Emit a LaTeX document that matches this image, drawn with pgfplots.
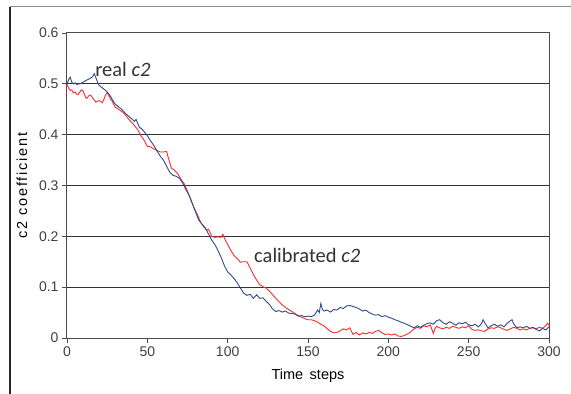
\documentclass[border=0pt]{standalone}
\usepackage{pgfplots}
\pgfplotsset{compat=1.18}
\usepackage{fontspec}
\setmainfont{Liberation Sans}
\newfontfamily\calib{Carlito}
\newfontfamily\ylabfont[LetterSpace=12]{Liberation Sans}
\definecolor{realblue}{HTML}{2E4A8C}
\definecolor{calred}{HTML}{FF2A2A}
\definecolor{ticktext}{HTML}{404040}
\begin{document}
\begin{tikzpicture}[x=1pt,y=1pt]
\useasboundingbox (-67,-56) rectangle (504,338);
\draw[black!45, line width=1pt] (-57,331) -- (504,331);
\draw[black!85, line width=1.5pt] (-57,331) -- (-57,-56);
\begin{axis}[
  at={(0pt,0pt)}, anchor=south west,
  width=482pt, height=305pt, scale only axis,
  xmin=0, xmax=300, ymin=0, ymax=0.6,
  xtick={0,50,100,150,200,250,300},
  ytick={0,0.1,0.2,0.3,0.4,0.5,0.6},
  yticklabels={0,0.1,0.2,0.3,0.4,0.5,0.6},
  ymajorgrids,
  grid style={black!80, line width=1pt},
  axis line style={black!70, line width=1pt},
  tick style={black!70, line width=0.8pt},
  tick align=outside, tick pos=left,
  major tick length=5pt,
  /pgf/number format/assume math mode=true,
  tick label style={font=\fontsize{14}{16}\selectfont, text=ticktext},
  label style={font=\fontsize{14.5}{16}\selectfont},
  xlabel={Time\, steps},
  ylabel={c2 coefficient},
  xlabel style={at={(axis description cs:0.5,0)}, anchor=center, yshift=-38pt},
  ylabel style={at={(axis description cs:0,0.5)}, anchor=center, yshift=45pt, font=\ylabfont\fontsize{14.5}{16}\selectfont},
  clip=false,
]
\addplot[calred, line width=0.9pt] coordinates {
(0,0.500) (1,0.492) (2,0.487) (3,0.488) (4,0.482) (5,0.484) (6,0.480) (7,0.479) (8,0.484) (9,0.488)
(10,0.486) (11,0.478) (12,0.471) (13,0.474) (14,0.478) (15,0.477) (16,0.472) (17,0.468) (18,0.464) (19,0.466)
(20,0.467) (21,0.465) (22,0.463) (23,0.470) (24,0.478) (25,0.483) (26,0.477) (27,0.470) (28,0.467) (29,0.460)
(30,0.454) (32,0.450) (34,0.446) (36,0.440) (38,0.432) (40,0.425) (42,0.418) (44,0.410) (46,0.398) (48,0.389)
(50,0.377) (52,0.376) (54,0.372) (56,0.369) (58,0.366) (60,0.366) (62,0.367) (63,0.355) (65,0.334) (67,0.330)
(69,0.323) (71,0.312) (73,0.303) (75,0.289) (77,0.272) (79,0.256) (81,0.244) (83,0.229) (85,0.219) (87,0.212)
(88,0.214) (89,0.208) (90,0.200) (92,0.198) (94,0.199) (96,0.198) (97,0.204) (98,0.196) (100,0.184) (102,0.172)
(104,0.162) (106,0.156) (108,0.149) (110,0.150) (112,0.150) (114,0.138) (116,0.125) (118,0.114) (120,0.105) (122,0.101)
(124,0.098) (126,0.092) (128,0.085) (130,0.078) (132,0.071) (134,0.065) (136,0.060) (138,0.056) (140,0.052) (142,0.048)
(144,0.044) (146,0.041) (148,0.038) (150,0.036) (152,0.036) (154,0.034) (156,0.031) (158,0.027) (160,0.024) (162,0.018)
(164,0.013) (166,0.010) (168,0.011) (170,0.014) (172,0.018) (174,0.016) (176,0.020) (178,0.007) (180,0.011) (182,0.006)
(184,0.010) (186,0.008) (188,0.011) (190,0.009) (192,0.013) (194,0.015) (196,0.010) (198,0.007) (200,0.008) (202,0.006)
(204,0.008) (206,0.004) (208,0.003) (210,0.005) (212,0.008) (214,0.012) (216,0.018) (218,0.021) (220,0.019) (222,0.024)
(224,0.022) (226,0.026) (227,0.018) (228,0.009) (229,0.018) (230,0.023) (232,0.020) (234,0.018) (236,0.021) (238,0.019)
(240,0.023) (242,0.021) (244,0.019) (246,0.022) (248,0.020) (250,0.024) (252,0.017) (254,0.015) (256,0.016) (258,0.014)
(260,0.013) (262,0.018) (264,0.020) (266,0.019) (268,0.022) (270,0.020) (272,0.017) (274,0.015) (276,0.018) (278,0.021)
(280,0.019) (282,0.016) (284,0.018) (286,0.016) (288,0.019) (290,0.020) (292,0.018) (294,0.021) (296,0.019) (298,0.024)
(299,0.029) (300,0.025)
};
\addplot[realblue, line width=0.9pt] coordinates {
(0,0.500) (1,0.508) (2,0.513) (3,0.503) (4,0.500) (5,0.502) (6,0.499) (8,0.500) (10,0.503) (12,0.507)
(14,0.510) (16,0.514) (17,0.520) (18,0.512) (19,0.503) (20,0.497) (22,0.492) (24,0.487) (25,0.484) (27,0.476)
(28,0.470) (30,0.460) (32,0.455) (34,0.450) (36,0.443) (38,0.437) (40,0.432) (42,0.426) (43,0.430) (45,0.415)
(47,0.410) (49,0.402) (50,0.398) (52,0.388) (54,0.379) (56,0.368) (58,0.358) (60,0.350) (62,0.338) (64,0.326)
(66,0.320) (68,0.318) (70,0.314) (72,0.305) (74,0.292) (76,0.281) (78,0.265) (80,0.248) (82,0.232) (84,0.224)
(86,0.217) (88,0.205) (90,0.193) (92,0.184) (94,0.172) (96,0.158) (98,0.142) (100,0.130) (102,0.124) (104,0.117)
(106,0.108) (108,0.098) (110,0.088) (112,0.084) (114,0.086) (116,0.078) (118,0.085) (120,0.078) (122,0.079) (124,0.072)
(126,0.066) (128,0.057) (130,0.052) (132,0.054) (134,0.051) (136,0.053) (138,0.049) (140,0.048) (142,0.047) (144,0.043)
(146,0.044) (148,0.042) (150,0.043) (152,0.042) (154,0.045) (156,0.055) (157,0.050) (158,0.068) (159,0.056) (160,0.053)
(162,0.055) (164,0.051) (166,0.056) (168,0.055) (170,0.060) (172,0.058) (174,0.063) (176,0.064) (178,0.062) (180,0.060)
(182,0.057) (184,0.053) (186,0.055) (188,0.050) (190,0.047) (192,0.045) (194,0.046) (196,0.042) (198,0.044) (200,0.041)
(202,0.039) (204,0.036) (206,0.034) (208,0.031) (210,0.029) (212,0.026) (214,0.023) (216,0.020) (218,0.024) (220,0.021)
(222,0.025) (224,0.028) (226,0.030) (228,0.027) (230,0.034) (232,0.036) (234,0.030) (236,0.027) (238,0.032) (240,0.029)
(242,0.025) (244,0.030) (246,0.028) (248,0.031) (250,0.026) (252,0.024) (254,0.027) (256,0.022) (258,0.028) (259,0.036)
(260,0.030) (262,0.020) (264,0.024) (266,0.027) (268,0.023) (270,0.026) (272,0.022) (274,0.029) (276,0.034) (277,0.036)
(278,0.028) (280,0.020) (282,0.022) (284,0.020) (286,0.023) (288,0.019) (290,0.021) (292,0.017) (294,0.014) (296,0.019)
(298,0.016) (300,0.022)
};
\node[anchor=base west, inner sep=0pt, font=\calib\fontsize{20.5}{22}\selectfont, text=black!80] at (axis cs:17.5,0.514) {real \textit{c2}};
\node[anchor=base west, inner sep=0pt, font=\calib\fontsize{20.5}{22}\selectfont, text=black!80] at (axis cs:116.4,0.149) {calibrated \textit{c2}};
\end{axis}
\end{tikzpicture}
\end{document}
